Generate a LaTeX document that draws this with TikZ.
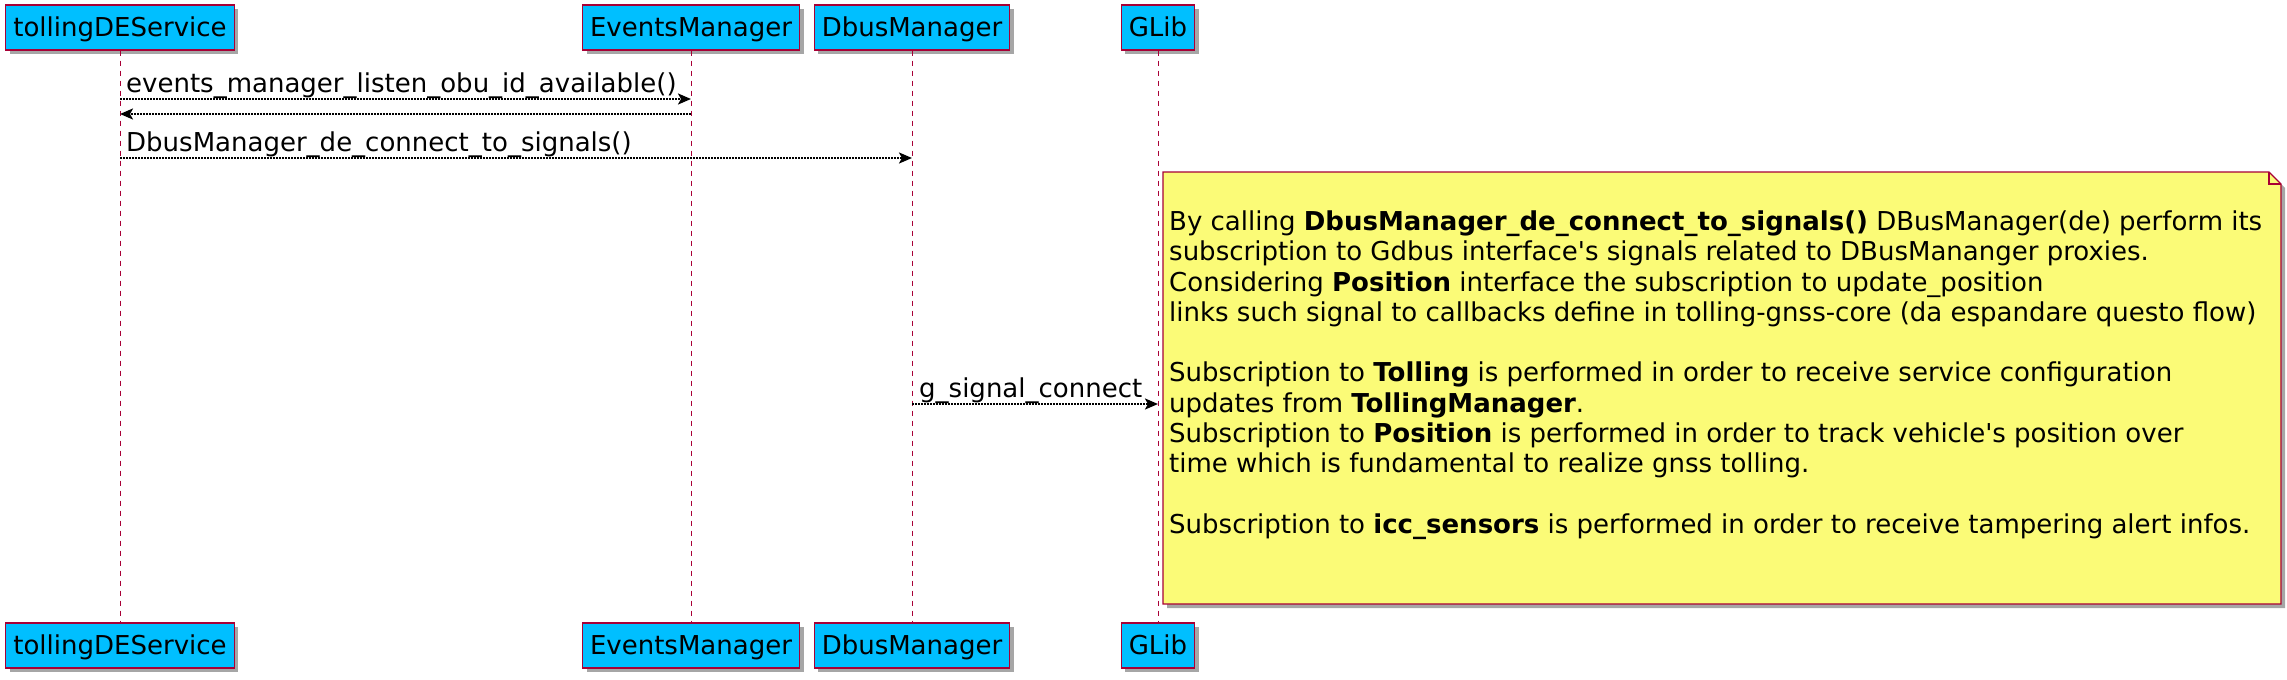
\documentclass[tikz,border=0pt]{standalone}
\usepackage{fontspec}
\setmainfont{DejaVu Sans}
\usepackage{tikz}
\usetikzlibrary{arrows.meta,shadows}
\definecolor{partblue}{HTML}{00BFFF}
\definecolor{umlred}{HTML}{A80036}
\definecolor{noteyellow}{HTML}{FBFB77}

\begin{document}
\begin{tikzpicture}[x=1pt,y=-1pt]
\tikzset{participant/.style={draw=umlred,fill=partblue,line width=1.2pt,minimum height=45pt,inner xsep=7.5pt,inner ysep=0pt,text height=20pt,text depth=3pt,font=\fontsize{26}{30.3}\selectfont,drop shadow={shadow xshift=4pt,shadow yshift=-4pt,fill=black!35,opacity=1}},
lifeline/.style={umlred,line width=1pt,dash pattern=on 5pt off 5pt},
msg/.style={line width=2.2pt,dash pattern=on 2pt off 1pt,-{Stealth[length=13pt,width=11pt,inset=3pt]}},
msglabel/.style={anchor=base west,inner sep=0pt,font=\fontsize{26}{30.3}\selectfont},
notetext/.style={anchor=north west,inner sep=0pt,align=left,font=\fontsize{26}{30.3}\selectfont}}
\useasboundingbox (0,0) rectangle (2287,680);
\node[participant] (tds) at (120,27.5) {tollingDEService};
\node[participant] (evm) at (691,27.5) {EventsManager};
\node[participant] (dbm) at (912,27.5) {DbusManager};
\node[participant] (glib) at (1158,27.5) {GLib};
\node[participant] (tdsB) at (120,645.5) {tollingDEService};
\node[participant] (evmB) at (691,645.5) {EventsManager};
\node[participant] (dbmB) at (912,645.5) {DbusManager};
\node[participant] (glibB) at (1158,645.5) {GLib};
\draw[lifeline] (tds) -- (tdsB);
\draw[lifeline] (evm) -- (evmB);
\draw[lifeline] (dbm) -- (dbmB);
\draw[lifeline] (glib) -- (glibB);
% messages
\coordinate (m1) at (0,99);
\coordinate (m2) at (0,114);
\coordinate (m3) at (0,158);
\coordinate (m4) at (0,404);
\draw[msg] (tds |- m1) -- (evm |- m1);
\node[msglabel] (l1) at (126,92) {events\_manager\_listen\_obu\_id\_available()};
\draw[msg] (evm |- m2) -- (tds |- m2);
\draw[msg] (tds |- m3) -- (dbm |- m3);
\node[msglabel] (l3) at (126,151) {DbusManager\_de\_connect\_to\_signals()};
\draw[msg] (dbm |- m4) -- (glib |- m4);
\node[msglabel] (l4) at (919,397) {g\_signal\_connect};
% note right of GLib
\draw[umlred,line width=1.2pt,fill=noteyellow,drop shadow={shadow xshift=4pt,shadow yshift=-4pt,fill=black!35,opacity=1}] (1163,172) -- (2269,172) -- (2281,184) -- (2281,604) -- (1163,604) -- cycle;
\draw[umlred,line width=1.2pt] (2269,172) -- (2269,184) -- (2281,184);
\node[notetext] (note) at (1169,209) {\strut By calling \textbf{DbusManager\_de\_connect\_to\_signals()} DBusManager(de) perform its\\
subscription to Gdbus interface\textquotesingle s signals related to DBusMananger proxies.\\
Considering \textbf{Position} interface the subscription to update\_position\\
links such signal to callbacks define in tolling-gnss-core (da espandare questo flow)\\[30.3pt]
Subscription to \textbf{Tolling} is performed in order to receive service configuration\\
updates from \textbf{TollingManager}.\\
Subscription to \textbf{Position} is performed in order to track vehicle\textquotesingle s position over\\
time which is fundamental to realize gnss tolling.\\[30.3pt]
Subscription to \textbf{icc\_sensors} is performed in order to receive tampering alert infos.};
\end{tikzpicture}
\end{document}
